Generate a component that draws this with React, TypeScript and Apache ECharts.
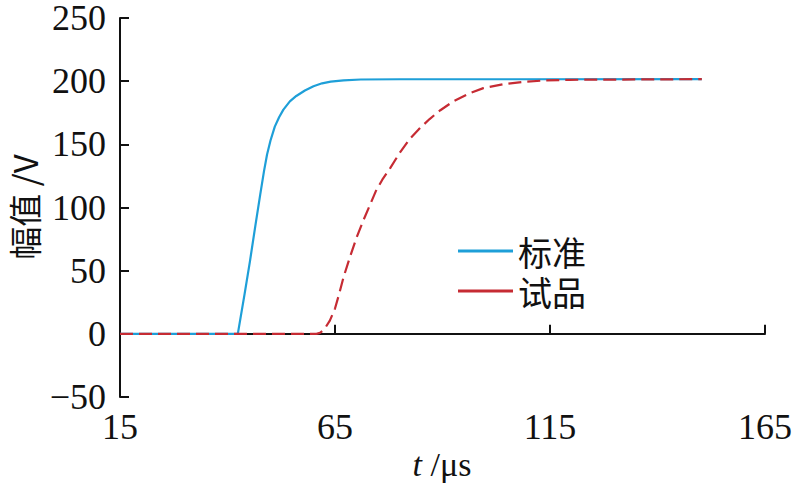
import React, { useEffect, useRef } from "react";
import * as echarts from "echarts";

const xTicks = [15, 65, 115, 165];
const yTicks = [-50, 0, 50, 100, 150, 200, 250];
const seriesNames = ["标准", "试品"];
const standardData: number[][] = [
  [15, 0], [42.4, 0], [44, 32], [45.2, 57], [46.5, 86], [47.6, 110], [48.5, 129],
  [49.2, 142], [50, 153], [51, 164], [52, 171.5], [53, 177.5], [54.5, 184], [56, 188.3],
  [58, 192.6], [60, 196], [62, 198.3], [64, 199.6], [67, 200.7], [71, 201.3], [80, 201.5],
  [150.3, 201.6],
];
const sampleData: number[][] = [
  [15, 0], [60.7, 0], [61.5, 0.8], [62.5, 3.5], [63.8, 10.5], [65, 20], [66, 32],
  [67, 45], [68.5, 61], [70, 76], [71.5, 89], [73, 101], [74.5, 113], [76, 122],
  [77.8, 131], [80, 143], [82.4, 154.4], [84.5, 162], [87, 170], [89.5, 177], [92.5, 184],
  [96, 190], [99.5, 194.5], [104, 197.5], [108.8, 199.5], [114, 200.6], [119.7, 201.1],
  [150.3, 201.6],
];
const yAxisTitle = "幅值 /V";
const xAxisTitle = "{i|t} /μs";

const SERIF = "'Liberation Serif', 'Times New Roman', serif";
const CJK = "'Noto Sans CJK SC', 'Liberation Serif', sans-serif";

export default function App() {
  const ref = useRef<HTMLDivElement>(null);
  useEffect(() => {
    if (!ref.current) return;
    const chart = echarts.init(ref.current, null, { renderer: "svg" });
    const axisLine = { show: true, lineStyle: { color: "#111", width: 2 } };
    chart.setOption({
      animation: false,
      backgroundColor: "#fff",
      grid: { left: 120, right: 31, top: 15, bottom: 91 },
      xAxis: {
        type: "value",
        min: xTicks[0],
        max: xTicks[xTicks.length - 1],
        interval: xTicks[1] - xTicks[0],
        axisLine,
        axisTick: { show: true, inside: true, length: 9, lineStyle: { color: "#111", width: 2 } },
        axisLabel: { color: "#111", fontSize: 36, lineHeight: 30, fontFamily: SERIF, margin: 15 },
        splitLine: { show: false },
      },
      yAxis: {
        type: "value",
        min: yTicks[0],
        max: yTicks[yTicks.length - 1],
        interval: yTicks[1] - yTicks[0],
        axisLine,
        axisTick: { show: true, inside: true, length: 9, lineStyle: { color: "#111", width: 2 } },
        axisLabel: {
          color: "#111", fontSize: 36, lineHeight: 30, fontFamily: SERIF, margin: 14,
          formatter: (v: number) => String(v).replace("-", "\u2212"),
        },
        splitLine: { show: false },
      },
      legend: {
        orient: "vertical",
        left: 458,
        top: 234,
        padding: 0,
        itemWidth: 55,
        itemHeight: 3,
        itemGap: 6,
        icon: "rect",
        data: seriesNames,
        textStyle: { fontSize: 34, lineHeight: 34, fontFamily: CJK, color: "#111" },
      },
      graphic: [
        {
          type: "text",
          x: 24,
          y: 207,
          rotation: Math.PI / 2,
          style: {
            text: yAxisTitle, fontSize: 33, fontFamily: CJK, fill: "#111",
            align: "center", verticalAlign: "middle",
          },
        },
        {
          type: "text",
          x: 442,
          y: 464,
          style: {
            text: xAxisTitle, fontSize: 34, fontFamily: SERIF, fill: "#111",
            align: "center", verticalAlign: "middle",
            rich: { i: { fontStyle: "italic", fontSize: 34, fontFamily: SERIF, fill: "#111" } },
          },
        },
      ],
      series: [
        {
          name: seriesNames[0],
          type: "line",
          data: standardData,
          showSymbol: false,
          color: "#1E9FD8",
          lineStyle: { color: "#1E9FD8", width: 2.2 },
        },
        {
          name: seriesNames[1],
          type: "line",
          data: sampleData,
          showSymbol: false,
          color: "#C62B33",
          lineStyle: { color: "#C62B33", width: 2.2, type: [13, 6] },
        },
      ],
    });
    return () => chart.dispose();
  }, []);
  return (
    <div
      ref={ref}
      style={{ position: "fixed", left: 0, top: 0, width: 796, height: 488, background: "#fff" }}
    />
  );
}
